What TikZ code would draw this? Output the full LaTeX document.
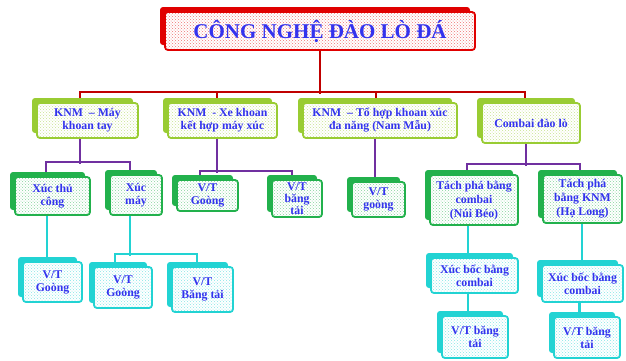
\documentclass[tikz,border=0pt]{standalone}
\usepackage{fontspec}
\setmainfont{Liberation Serif}
\usetikzlibrary{shadows,patterns,backgrounds}
\definecolor{cTitle}{HTML}{E00000}
\definecolor{cRedLine}{HTML}{C00000}
\definecolor{cLime}{HTML}{99CC33}
\definecolor{cGreen}{HTML}{22B14C}
\definecolor{cCyan}{HTML}{22D3D3}
\definecolor{cPurple}{HTML}{7030A0}
\definecolor{cText}{HTML}{3333EE}
\tikzset{
  bx/.style={general shadow={fill=#1, shadow xshift=-5pt, shadow yshift=5pt},
    preaction={fill=white}, draw=#1, line width=1.8pt, rounded corners=3pt,
    pattern=crosshatch dots, pattern color=#1!55,
    text=cText, font=\bfseries\fontsize{11.8}{13}\selectfont, align=center, inner sep=1pt},
  wh/.style 2 args={minimum width=#1pt, minimum height=#2pt},
  rl/.style={draw=cRedLine, line width=2pt},
  pl/.style={draw=cPurple, line width=2pt},
  cl/.style={draw=cCyan, line width=2.4pt},
}
\begin{document}
\begin{tikzpicture}[x=1pt,y=-1pt]
\useasboundingbox (0,0) rectangle (626,360);
% title
\node[bx=cTitle, wh={310}{38}, font=\bfseries\fontsize{21}{24}\selectfont] (title) at (320,31) {CÔNG NGHỆ ĐÀO LÒ ĐÁ};
% level 1
\node[bx=cLime, wh={101}{35}] (L1a) at (87.5,120.5) {KNM \ – Máy\\khoan tay};
\node[bx=cLime, wh={109}{35}] (L1b) at (222.5,120.5) {KNM \ - Xe khoan\\kết hợp máy xúc};
\node[bx=cLime, wh={154}{35}] (L1c) at (380,120.5) {KNM \ – Tổ hợp khoan xúc\\đa năng (Nam Mẫu)};
\node[bx=cLime, wh={98}{40}] (L1d) at (531,123) {Combai đào lò};
% level 2
\node[bx=cGreen, wh={75}{38}] (A1) at (52.5,196) {Xúc thủ\\công};
\node[bx=cGreen, wh={52}{40}] (A2) at (136,195) {Xúc\\máy};
\node[bx=cGreen, wh={61}{31}] (B1) at (207.5,195.5) {V/T\\Goòng};
\node[bx=cGreen, wh={50}{37}, font=\bfseries\fontsize{11.8}{12}\selectfont] (B2) at (297,198.5) {V/T\\băng\\tải};
\node[bx=cGreen, wh={53}{35}] (C1) at (378.5,199.5) {V/T\\goòng};
\node[bx=cGreen, wh={88}{50}, font=\bfseries\fontsize{11.8}{14}\selectfont] (D1) at (474,200) {Tách phá bằng\\combai\\(Núi Béo)};
\node[bx=cGreen, wh={79}{48}, font=\bfseries\fontsize{11.8}{14}\selectfont] (D2) at (582.5,199) {Tách phá\\bằng KNM\\(Hạ Long)};
% level 3
\node[bx=cCyan, wh={59}{40}] (A1a) at (52.5,282) {V/T\\Goòng};
\node[bx=cCyan, wh={58}{41}] (A2a) at (123,287.5) {V/T\\Goòng};
\node[bx=cCyan, wh={61}{45}] (A2b) at (202.5,289.5) {V/T\\Băng tải};
\node[bx=cCyan, wh={87}{35}] (D1a) at (474.5,275.5) {Xúc bốc bằng\\combai};
\node[bx=cCyan, wh={81}{37}] (D2a) at (582.5,283.5) {Xúc bốc bằng\\combai};
\node[bx=cCyan, wh={66}{42}] (D1b) at (475,337) {V/T băng\\tải};
\node[bx=cCyan, wh={66}{41}] (D2b) at (587,337.5) {V/T băng\\tải};
% connectors
\begin{pgfonlayer}{background}
\draw[rl] (title.south) -- ++(0,43);
\draw[rl] ([xshift=-7.5pt]L1a.north) -- ++(0,-10) -| ([xshift=-6pt]L1d.north);
\draw[rl] ([xshift=-5.5pt]L1b.north) -- ++(0,-10);
\draw[rl] ([xshift=-4pt]L1c.north) -- ++(0,-10);
% purple
\draw[pl] ([xshift=-7.5pt]L1a.south) -- ++(0,25);
\draw[pl] ([xshift=-6.5pt]A1.north) -- ++(0,-14) -| ([xshift=-6pt]A2.north);
\draw[pl] ([xshift=-5.5pt]L1b.south) -- ++(0,34);
\draw[pl] ([xshift=-7.5pt]B1.north) -- ++(0,-8) -| ([xshift=-5pt]B2.north);
\draw[pl] ([xshift=-5pt]L1c.south) -- ([xshift=-5pt]L1c.south |- C1.north);
\draw[pl] ([xshift=-5pt]L1d.south) -- ++(0,22);
\draw[pl] ([xshift=-7pt]D1.north) -- ++(0,-10) -| ([xshift=-2.5pt]D2.north);
% cyan
\draw[cl] ([xshift=-5.5pt]A1.south) -- ([xshift=-5.5pt]A1.south |- A1a.north);
\draw[cl] ([xshift=-6pt]A2.south) -- ++(0,40);
\draw[cl] ([xshift=-8pt]A2a.north) -- ++(0,-12) -| ([xshift=-5.5pt]A2b.north);
\draw[cl] ([xshift=-6pt]D1.south) -- ([xshift=-6pt]D1.south |- D1a.north);
\draw[cl] ([xshift=-6.5pt]D1a.south) -- ([xshift=-6.5pt]D1a.south |- D1b.north);
\draw[cl] ([xshift=-0.5pt]D2.south) -- ([xshift=-0.5pt]D2.south |- D2a.north);
\draw[cl] ([xshift=-3pt]D2a.south) -- ([xshift=-3pt]D2a.south |- D2b.north);
\end{pgfonlayer}
\end{tikzpicture}
\end{document}
